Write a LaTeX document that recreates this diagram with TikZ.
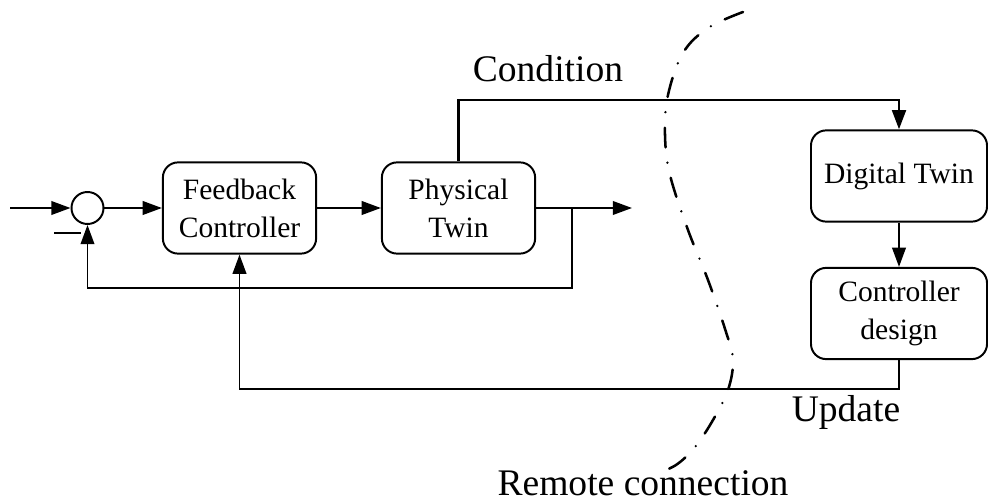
\documentclass[tikz,border=0pt]{standalone}
\usepackage{fontspec}
\setmainfont{Liberation Serif}
\usetikzlibrary{arrows.meta}

\begin{document}
\begin{tikzpicture}[x=0.025cm, y=-0.025cm, line width=1.4pt,
  block/.style={draw, rounded corners=0.38cm, minimum width=3.83cm,
                minimum height=2.28cm, align=center, inner sep=0pt,
                font=\fontsize{21}{27}\selectfont},
  sumnode/.style={draw, circle, minimum size=0.8cm, inner sep=0pt},
  arw/.style={-{Triangle[length=0.48cm, width=0.34cm]}},
  biglbl/.style={font=\fontsize{26.7}{32}\selectfont, anchor=base, inner sep=0pt}]
\useasboundingbox (0,0) rectangle (988,504);
% Blocks
\node[sumnode] (sum) at (87.5,208) {};
\node[block] (fc) at (239.5,208) {Feedback\\Controller};
\node[block] (pt) at (458.5,208) {Physical\\Twin};
\node[block, minimum width=4.4cm] (dt) at (899,176) {Digital Twin};
\node[block, minimum width=4.4cm] (cd) at (899,313.5) {Controller\\design};
% Helper points
\coordinate (in) at (10,208);
\coordinate (yout) at (632,208);
\coordinate (tap) at (572,208);
\coordinate (loop) at (300,288);
\coordinate (cnd) at (700,100);
\coordinate (upd) at (600,389);
% Forward path
\draw[arw] (in) -- (sum);
\draw[arw] (sum) -- (fc);
\draw[arw] (fc) -- (pt);
\draw[arw] (pt) -- (yout);
\draw (54,233) -- (81,233);
% Local feedback
\draw[arw] (tap) |- (loop) -| (sum.south);
% Condition to digital twin
\draw[arw, line width=2.1pt] (pt.north) |- (cnd) -| (dt.north);
\draw[arw] (dt) -- (cd);
% Update back to controller
\draw[arw] (cd.south) |- (upd) -| (fc.south);
% Remote connection boundary
\draw[line width=1.8pt, line cap=round,
      dash pattern=on 14pt off 11pt on 0pt off 11pt]
  plot[smooth, tension=0.6] coordinates {(743,12) (708,28) (683,53) (668,95)
  (665,135) (670,175) (688,230) (708,280) (726,332) (733,360) (728,390)
  (713,420) (695,447) (676,465) (655,474)};
% Labels
\node[biglbl] (lcond) at (548,82) {Condition};
\node[biglbl] (lupd) at (846,422) {Update};
\node[biglbl] (lrem) at (643,495) {Remote connection};
\end{tikzpicture}
\end{document}
